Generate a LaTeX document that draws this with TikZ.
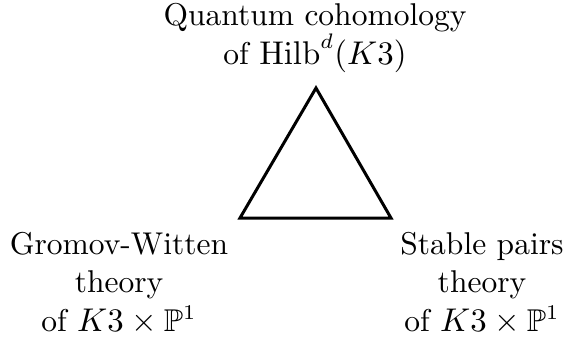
\documentclass[tikz,border=0pt]{standalone}
\usepackage{amsmath,amssymb}
\begin{document}
\begin{tikzpicture}[x=0.3333pt,y=-0.3333pt]
	\newcommand{\labelsize}{\fontsize{10.5pt}{12.8pt}\selectfont}
	\tikzset{theorylabel/.style={align=center, inner sep=0pt, font=\labelsize}}
	\useasboundingbox (0,0) rectangle (563,349);
	%top label
	\node [theorylabel] (quantum) at (315,38) {Quantum cohomology\\of $\mathrm{Hilb}^d(K3)$};
	%bottom labels
	\node [theorylabel] (gw) at (119,283) {Gromov-Witten\\theory\\of $K3\times\mathbb{P}^1$};
	\node [theorylabel] (pairs) at (482,283) {Stable pairs\\theory\\of $K3\times\mathbb{P}^1$};
	%triangle
	\coordinate (apex) at (316,88);
	\coordinate (leftcorner) at (240,218);
	\coordinate (rightcorner) at (391,218);
	\draw [line width=1pt] (apex) -- (leftcorner) -- (rightcorner) -- cycle;
\end{tikzpicture}
\end{document}
